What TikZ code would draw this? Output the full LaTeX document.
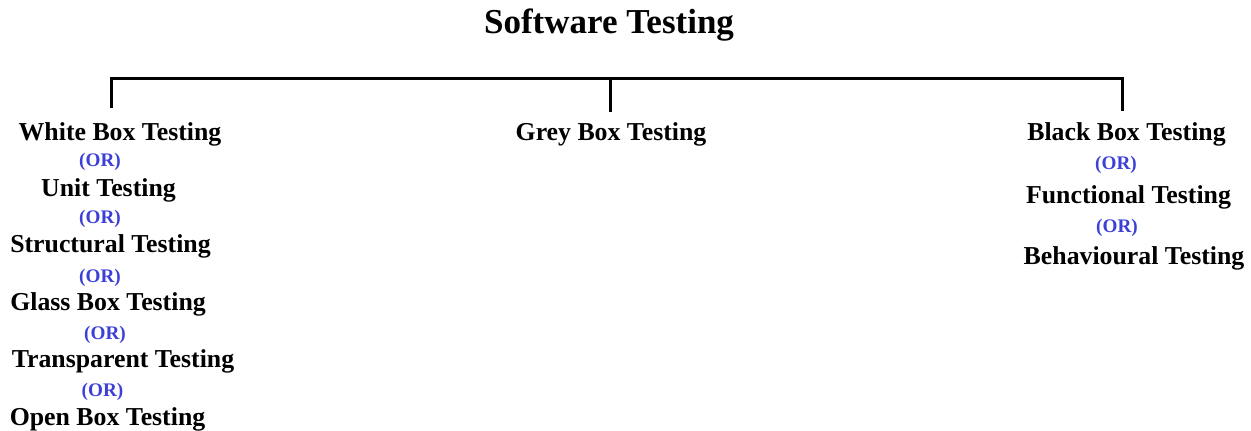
\documentclass[tikz,border=0pt]{standalone}
\usepackage{fontspec}
\setmainfont{Liberation Serif}
\definecolor{orblue}{RGB}{60,64,215}
\begin{document}
\begin{tikzpicture}[x=1pt,y=-1pt,
  title/.style={anchor=base,inner sep=0pt,font=\fontsize{35}{40}\selectfont\bfseries},
  term/.style={anchor=base,inner sep=0pt,font=\fontsize{25.8}{30}\selectfont\bfseries},
  orlabel/.style={anchor=base,inner sep=0pt,text=orblue,font=\fontsize{19.2}{22}\selectfont\bfseries},
  tree/.style={line width=3pt,line join=miter}]
\useasboundingbox (0,0) rectangle (1251,431);
\node[title] (title) at (609,34) {Software Testing};
% left column
\node[term] (wb) at (120,140) {White Box Testing};
\node[orlabel] (or1) at (100,166) {(OR)};
\node[term] (unit) at (108.5,196) {Unit Testing};
\node[orlabel] (or2) at (100,223) {(OR)};
\node[term] (struct) at (110.5,252) {Structural Testing};
\node[orlabel] (or3) at (100,282) {(OR)};
\node[term] (glass) at (108,310) {Glass Box Testing};
\node[orlabel] (or4) at (105,339) {(OR)};
\node[term] (transp) at (123,367) {Transparent Testing};
\node[orlabel] (or5) at (102.5,396) {(OR)};
\node[term] (open) at (107.5,425) {Open Box Testing};
% middle
\node[term] (grey) at (611,140) {Grey Box Testing};
% right column
\node[term] (black) at (1126.5,140) {Black Box Testing};
\node[orlabel] (or6) at (1116,169) {(OR)};
\node[term] (func) at (1128.5,203) {Functional Testing};
\node[orlabel] (or7) at (1117,232) {(OR)};
\node[term] (behav) at (1134,264) {Behavioural Testing};
% connectors
\coordinate (dl) at (111,108);
\coordinate (tl) at (111,78);
\coordinate (tm) at (610,78);
\coordinate (dm) at (610,112);
\coordinate (tr) at (1122,78);
\coordinate (dr) at (1122,111);
\draw[tree] (dl) -- (tl) -- (tr) -- (dr);
\draw[tree] (tm) -- (dm);
\end{tikzpicture}
\end{document}
